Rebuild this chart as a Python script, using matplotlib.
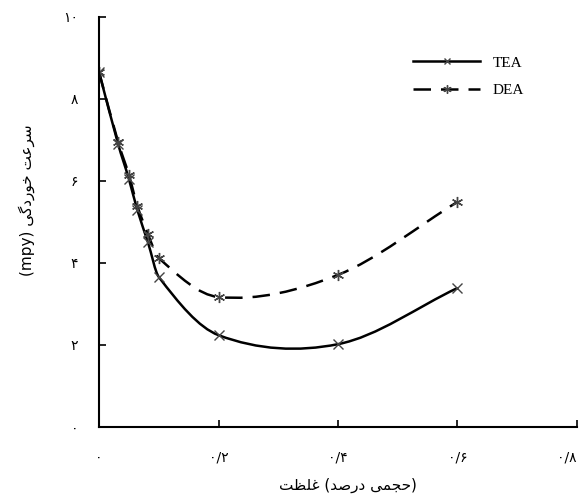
import numpy as np
import matplotlib.pyplot as plt
from matplotlib.path import Path
from matplotlib.patches import PathPatch
from matplotlib.lines import Line2D

# concentration (vol %) and corrosion rate (mpy)
x_tea = [0.0, 0.032, 0.05, 0.064, 0.082, 0.1, 0.2, 0.4, 0.6]
y_tea = [8.66, 6.9, 6.05, 5.3, 4.5, 3.66, 2.24, 2.02, 3.39]
x_dea = [0.0, 0.032, 0.05, 0.064, 0.082, 0.1, 0.2, 0.4, 0.6]
y_dea = [8.66, 6.95, 6.15, 5.4, 4.7, 4.12, 3.17, 3.71, 5.49]

xticks = [0.0, 0.2, 0.4, 0.6, 0.8]
xtick_labels = ['\u06f0', '\u06f0/\u06f2', '\u06f0/\u06f4', '\u06f0/\u06f6', '\u06f0/\u06f8']
yticks = [0, 2, 4, 6, 8, 10]
ytick_labels = ['\u06f0', '\u06f2', '\u06f4', '\u06f6', '\u06f8', '\u06f1\u06f0']

# Persian labels, written as presentation forms in visual order
xlabel = ('\uFE96\uFEC8\uFEE0\uFECF' + ' (' + '\uFEAA\uFEBB\uFEAD\uFEA9'
          + ' ' + '\uFEF0\uFEE4\uFEA0\uFEA3' + ')')
ylabel = ('(mpy) ' + '\uFEF0\uFB94\uFEA9\uFEAD\uFEEE\uFEA7' + ' '
          + '\uFE96\uFECB\uFEAE\uFEB3')


def smooth_path(xs, ys):
    # cubic Hermite through the points (central-difference slopes), as Bezier
    x = np.asarray(xs, float)
    y = np.asarray(ys, float)
    m = np.empty_like(y)
    m[1:-1] = (y[2:] - y[:-2]) / (x[2:] - x[:-2])
    m[0] = (y[1] - y[0]) / (x[1] - x[0])
    m[-1] = (y[-1] - y[-2]) / (x[-1] - x[-2])
    verts = [(x[0], y[0])]
    codes = [Path.MOVETO]
    for i in range(len(x) - 1):
        h = x[i + 1] - x[i]
        verts += [(x[i] + h / 3, y[i] + m[i] * h / 3),
                  (x[i + 1] - h / 3, y[i + 1] - m[i + 1] * h / 3),
                  (x[i + 1], y[i + 1])]
        codes += [Path.CURVE4] * 3
    return Path(verts, codes)


fig = plt.figure(figsize=(5.8, 4.99), dpi=100)
ax = fig.add_axes([0.1707, 0.1443, 0.8241, 0.8217])

lw = 1.8
ax.add_patch(PathPatch(smooth_path(x_tea, y_tea), fill=False, lw=lw,
                       edgecolor='black', capstyle='butt'))
ax.add_patch(PathPatch(smooth_path(x_dea, y_dea), fill=False, lw=lw,
                       edgecolor='black', linestyle=(0, (7, 4)), capstyle='butt'))
ax.plot(x_tea, y_tea, ls='none', marker='x', ms=7, mew=1.0, color='#444444')
ax.plot(x_dea, y_dea, ls='none', marker=(6, 2, 0), ms=8, mew=1.0, color='#444444')

ax.set_xlim(0, 0.8)
ax.set_ylim(0, 10)
ax.spines['top'].set_visible(False)
ax.spines['right'].set_visible(False)
for s in ['left', 'bottom']:
    ax.spines[s].set_linewidth(1.5)

ax.set_xticks(xticks)
ax.set_xticklabels(xtick_labels, family='DejaVu Sans', fontsize=10)
ax.get_xticklabels()[-1].set_horizontalalignment('right')
ax.set_yticks(yticks)
ax.set_yticklabels(ytick_labels, family='DejaVu Sans', fontsize=10)
ax.tick_params(direction='in', length=5, width=1.2)
ax.tick_params(axis='x', pad=17)
ax.tick_params(axis='y', pad=15)

ax.set_xlabel(xlabel, family='DejaVu Sans', fontsize=11)
ax.xaxis.set_label_coords(0.52, -0.125)
ax.set_ylabel(ylabel, family='DejaVu Sans', fontsize=11)
ax.yaxis.set_label_coords(-0.134, 0.554)

handles = [
    Line2D([0, 0.5, 1], [0, 0, 0], color='black', lw=lw, marker='x', ms=5,
           mec='#444444', markevery=[1]),
    Line2D([0, 0.5, 1], [0, 0, 0], color='black', lw=lw, ls=(0, (7, 4)),
           marker=(6, 2, 0), ms=6, mec='#444444', markevery=[1]),
]
leg = ax.legend(handles, ['TEA', 'DEA'], loc='upper left',
                bbox_to_anchor=(0.657, 0.905), frameon=False,
                handlelength=4.4, handletextpad=0.8, labelspacing=0.9,
                borderpad=0, borderaxespad=0,
                prop={'family': 'Liberation Serif', 'size': 11})

fig.savefig('out.png', dpi=100)
